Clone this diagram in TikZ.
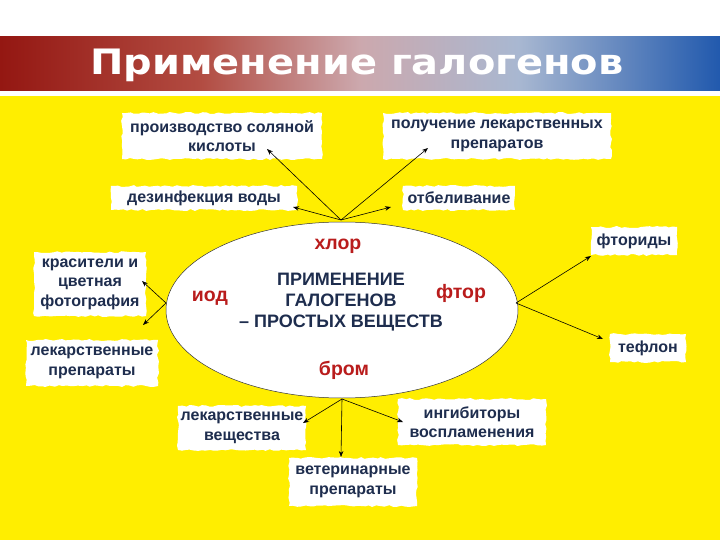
\documentclass[tikz,border=0pt]{standalone}
\usepackage{fontspec}
\setmainfont{Liberation Sans}
\newfontfamily\titlefont{DejaVu Sans}
\usetikzlibrary{shapes.geometric,arrows.meta,decorations.pathmorphing}
\definecolor{bgyellow}{RGB}{255,238,0}
\definecolor{navy}{RGB}{30,45,78}
\definecolor{halred}{RGB}{185,28,28}
\pgfdeclarehorizontalshading{hdr}{100bp}{rgb(0bp)=(0.58,0.09,0.07); rgb(25bp)=(0.58,0.09,0.07); rgb(39bp)=(0.70,0.30,0.26); rgb(50bp)=(0.80,0.66,0.68); rgb(61bp)=(0.66,0.72,0.82); rgb(75bp)=(0.13,0.35,0.68); rgb(100bp)=(0.13,0.35,0.68)}
\tikzset{
  wbox/.style={fill=white, align=center, text=navy, font=\bfseries\fontsize{16}{19.5}\selectfont, inner sep=2pt,
    decorate, decoration={random steps, segment length=4pt, amplitude=1pt}},
  hal/.style={text=halred, font=\bfseries\fontsize{19.5}{22}\selectfont},
  arr/.style={-{Stealth[length=6pt,width=4.5pt]}, line width=0.6pt, black}
}
\begin{document}
\begin{tikzpicture}[x=1pt,y=-1pt]
\useasboundingbox (0,0) rectangle (720,540);
\fill[white] (0,0) rectangle (720,540);
\fill[bgyellow] (0,96) rectangle (720,540);
\shade[shading=hdr] (0,37) rectangle (720,91);
\node[text=white, font=\titlefont\bfseries\fontsize{35}{40}\selectfont] (title) at (357,65) {\scalebox{1.14}[1]{Применение галогенов}};

% ellipse
\node[ellipse, draw=black!80, line width=0.5pt, fill=white, minimum width=352, minimum height=176] (ell) at (342,310) {};
\node[align=center, text=navy, font=\bfseries\fontsize{18}{21}\selectfont] (core) at (341,302) {ПРИМЕНЕНИЕ\\ГАЛОГЕНОВ\\– ПРОСТЫХ ВЕЩЕСТВ};
\node[hal] (cl) at (338,246) {хлор};
\node[hal] (io) at (210,298) {иод};
\node[hal] (fl) at (461,293) {фтор};
\node[hal] (br) at (344,370) {бром};

% boxes
\node[wbox, minimum width=200, minimum height=46] (prod) at (222,136) {производство соляной\\кислоты};
\node[wbox, minimum width=228, minimum height=46] (pol) at (497,136) {получение лекарственных\\препаратов};
\node[wbox, minimum width=186, minimum height=24] (dez) at (204,198) {дезинфекция воды};
\node[wbox, minimum width=112, minimum height=24] (otb) at (459,198) {отбеливание};
\node[wbox, minimum width=112, minimum height=64] (kras) at (90,284) {красители и\\цветная\\фотография};
\node[wbox, minimum width=132, minimum height=46] (lekp) at (92,363) {лекарственные\\препараты};
\node[wbox, minimum width=86, minimum height=28] (ftd) at (634,241) {фториды};
\node[wbox, minimum width=76, minimum height=28] (tef) at (648,348) {тефлон};
\node[wbox, minimum width=128, minimum height=44] (lekv) at (242,428) {лекарственные\\вещества};
\node[wbox, minimum width=148, minimum height=46] (ing) at (472,422) {ингибиторы\\воспламенения};
\node[wbox, minimum width=128, minimum height=48] (vet) at (353,482) {ветеринарные\\препараты};

% origins and tips
\coordinate (oT) at (341,220);
\coordinate (oL) at (166,303);
\coordinate (oR) at (516,303);
\coordinate (oB) at (342,399);
\coordinate (tprod) at (267,149);
\coordinate (tpol) at (428,148);
\coordinate (tdez) at (293,207);
\coordinate (totb) at (391,207);
\coordinate (tkras) at (142,281);
\coordinate (tlekp) at (143,325);
\coordinate (tftd) at (591,256);
\coordinate (ttef) at (603,339);
\coordinate (tlekv) at (303,423);
\coordinate (ting) at (403,422);
\coordinate (tvet) at (341,457);

\draw[arr] (oT) -- (tprod);
\draw[arr] (oT) -- (tpol);
\draw[arr] (oT) -- (tdez);
\draw[arr] (oT) -- (totb);
\draw[arr] (oL) -- (tkras);
\draw[arr] (oL) -- (tlekp);
\draw[arr] (oR) -- (tftd);
\draw[arr] (oR) -- (ttef);
\draw[arr] (oB) -- (tlekv);
\draw[arr] (oB) -- (ting);
\draw[arr] (oB) -- (tvet);
\end{tikzpicture}
\end{document}
